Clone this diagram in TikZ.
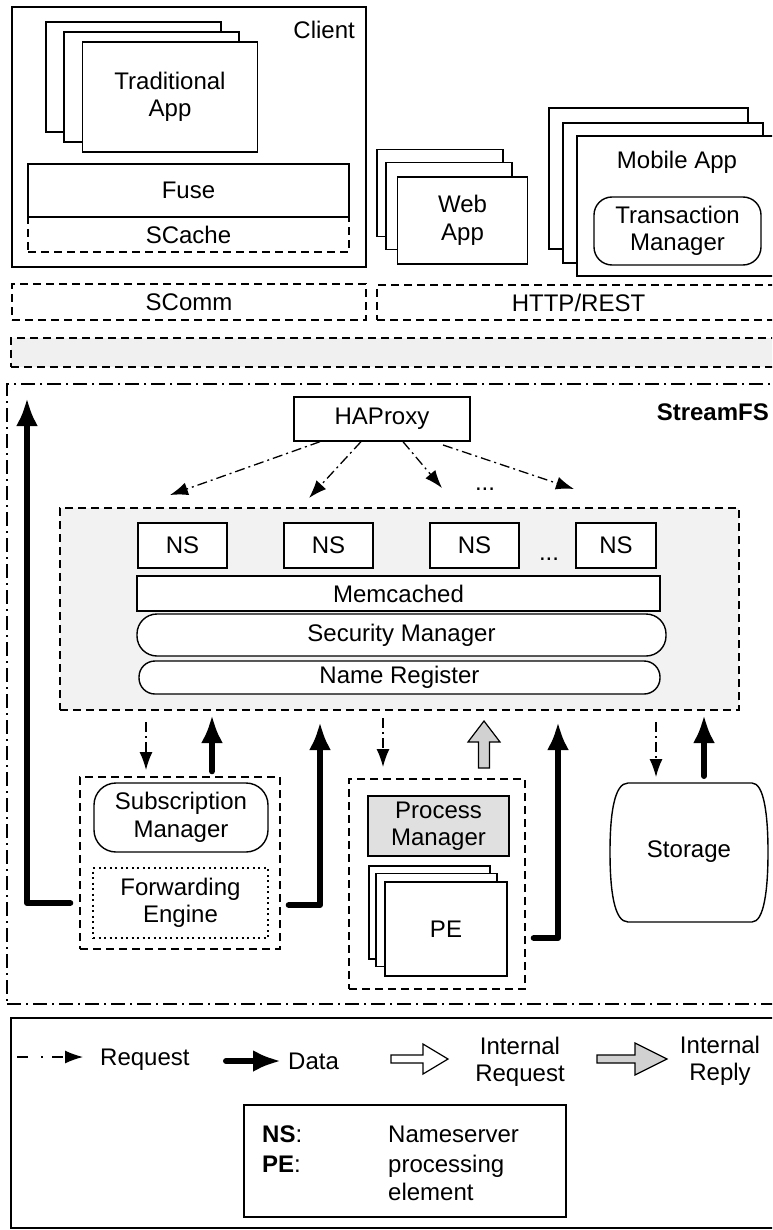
\documentclass[tikz,border=0pt]{standalone}
\usepackage{fontspec}
\setmainfont{Liberation Sans}
\usetikzlibrary{arrows.meta}
\begin{document}
\begin{tikzpicture}[x=1pt,y=-1pt,
  every node/.style={font=\fontsize{24}{27.5}\selectfont, align=center, inner sep=0pt},
  bx/.style={draw, line width=1.4pt, fill=white},
  dbx/.style={draw, line width=1.4pt, dash pattern=on 8pt off 5pt},
  rbx/.style={bx, rounded corners=18pt},
  dotbx/.style={draw, line width=1.4pt, dash pattern=on 2pt off 3.5pt},
  ddbx/.style={draw, line width=1.4pt, dash pattern=on 14pt off 5pt on 2pt off 5pt},
  req/.style={line width=1.3pt, dash pattern=on 10pt off 4pt on 2pt off 4pt, -{Latex[length=18pt,width=13pt]}},
  data/.style={line width=6pt, line join=round, line cap=round, -{Latex[length=28pt,width=22pt]}},
  blk/.style={line width=1.2pt, draw, line join=miter}
]
\useasboundingbox (0,0) rectangle (772,1230);
\clip (0,0) rectangle (772,1230);

% ---------------- Client ----------------
\node[bx, minimum width=354pt, minimum height=260pt] (client) at (189,137) {};
\node[anchor=east] (clientlbl) at (355,30) {Client};
\node[bx, minimum width=175pt, minimum height=110pt] (trad1) at (133.5,77) {};
\node[bx, minimum width=175pt, minimum height=110pt] (trad2) at (151.5,87) {};
\node[bx, minimum width=175pt, minimum height=110pt] (trad) at (170,97) {Traditional\\App};
\node[bx, minimum width=321pt, minimum height=53pt] (fuse) at (188.5,190.5) {Fuse};
\node[dbx, minimum width=321pt, minimum height=35pt] (scache) at (188.5,234.5) {SCache};
\node[dbx, minimum width=354pt, minimum height=36pt] (scomm) at (189,302) {SComm};

% ---------------- Web / Mobile ----------------
\node[bx, minimum width=126pt, minimum height=87pt] (web1) at (440,193) {};
\node[bx, minimum width=126pt, minimum height=87pt] (web2) at (449,206) {};
\node[bx, minimum width=130pt, minimum height=87pt] (web) at (462.5,220.5) {Web\\App};

\node[bx, minimum width=199pt, minimum height=141pt] (mob1) at (648.5,178.5) {};
\node[bx, minimum width=200pt, minimum height=140pt] (mob2) at (663,193) {};
\node[bx, minimum width=201pt, minimum height=140pt] (mob) at (677.5,206) {};
\node (moblbl) at (677,162) {Mobile App};
\node[rbx, minimum width=167pt, minimum height=68pt] (tm) at (677.5,231) {Transaction\\Manager};
\node[dbx, minimum width=403pt, minimum height=35pt] (http) at (578.5,302.5) {HTTP/REST};

% gray band
\node[dbx, fill=black!6, minimum width=779pt, minimum height=29pt] (band) at (400.5,352.5) {};

% ---------------- StreamFS ----------------
\node[ddbx, minimum width=783pt, minimum height=620pt] (sfs) at (398.5,694) {};
\node[anchor=east, font=\bfseries\fontsize{24}{27.5}\selectfont] (sfslbl) at (769,412) {StreamFS};

\node[bx, minimum width=176pt, minimum height=44pt] (hap) at (382,419) {HAProxy};

\node[dbx, fill=black!5, minimum width=679pt, minimum height=202pt] (nsg) at (399.5,609) {};
\node[bx, minimum width=89pt, minimum height=45pt] (ns1) at (182.5,545.5) {NS};
\node[bx, minimum width=89pt, minimum height=45pt] (ns2) at (328.5,545.5) {NS};
\node[bx, minimum width=89pt, minimum height=45pt] (ns3) at (474.5,545.5) {NS};
\node[bx, minimum width=80pt, minimum height=45pt] (ns4) at (616,545.5) {NS};
\node (nsdots) at (549,559) {...};
\node[bx, minimum width=523pt, minimum height=35pt] (memc) at (398.5,593.5) {Memcached};
\node[rbx, rounded corners=20pt, minimum width=529pt, minimum height=42pt] (secm) at (401.5,635) {Security Manager};
\node[rbx, rounded corners=16pt, minimum width=521pt, minimum height=33pt] (namer) at (399.5,677.5) {Name Register};

% HAProxy request arrows
\coordinate (h1) at (170,495);
\coordinate (h2) at (309,498);
\coordinate (h3) at (442,488);
\coordinate (h4) at (574,489);
\draw[req] (320,443 |- hap.south) -- (h1);
\draw[req] (361,443 |- hap.south) -- (h2);
\draw[req] (403,443 |- hap.south) -- (h3);
\draw[req] (443,445) -- (h4);
\node (hdots) at (485,489) {...};

% Subscription group
\node[dbx, minimum width=200pt, minimum height=172pt] (subg) at (180,863) {};
\node[rbx, rounded corners=22pt, minimum width=174pt, minimum height=69pt] (subm) at (181,817.5) {Subscription\\Manager};
\node[dotbx, minimum width=175pt, minimum height=70pt] (fwd) at (180.5,903) {Forwarding\\Engine};

% Process group
\node[dbx, minimum width=176pt, minimum height=210pt] (procg) at (437,884) {};
\node[bx, fill=black!12, minimum width=141pt, minimum height=60pt] (procm) at (438.5,826) {Process\\Manager};
\node[bx, minimum width=121pt, minimum height=93pt] (pe1) at (429.5,912.5) {};
\node[bx, minimum width=121pt, minimum height=93pt] (pe2) at (436.5,920) {};
\node[bx, minimum width=122pt, minimum height=94pt] (pe) at (446,929) {PE};

% Storage
\draw[line width=1.4pt] (628,783) -- (752,783)
  .. controls (764,783) and (768,815) .. (768,852)
  .. controls (768,890) and (764,922) .. (752,922)
  -- (628,922)
  .. controls (614,922) and (610,890) .. (610,852)
  .. controls (610,815) and (614,783) .. (628,783) -- cycle;
\node (storage) at (689,852) {Storage};

% vertical connectors
\coordinate (ltop) at (27,398);
\draw[data] ([xshift=-22pt]fwd.west) -| (ltop);

\draw[req] (146,722) -- (146,770);
\draw[data] (212,0 |- subg.north) ++(0,-5) coordinate (s2) -- (212,715);
\coordinate (fwdtop) at (320,722);
\draw[data] ([xshift=20pt,yshift=-2pt]fwd.east) -| (fwdtop);

\draw[req] (383,718) -- (383,767);
\draw[blk, fill=black!18] (478.5,768) -- (478.5,742) -- (468,742) -- (484,721) -- (500,742) -- (489.5,742) -- (489.5,768) -- cycle;
\coordinate (petop) at (558,722);
\draw[data] ([xshift=26pt,yshift=-9pt]pe.east) -| (petop);

\draw[req] (656,722) -- (656,777);
\draw[data] (704,776) -- (704,715);

% ---------------- Legend ----------------
\node[draw, line width=1.4pt, minimum width=779pt, minimum height=210pt] (legend) at (400.5,1123) {};
\coordinate (lr0) at (17,1057);
\coordinate (lr1) at (83,1057);
\draw[req, dash pattern=on 11pt off 13pt on 2pt off 9pt] (lr0) -- (lr1);
\node[anchor=base west] (lreq) at (100,1065) {Request};
\coordinate (ld0) at (226,1061);
\coordinate (ld1) at (281,1061);
\draw[data] (ld0) -- (ld1);
\node[anchor=base west] (ldata) at (288,1069) {Data};
\draw[blk, fill=white] (391,1055) -- (423,1055) -- (423,1044) -- (448,1059) -- (423,1074) -- (423,1063) -- (391,1063) -- cycle;
\node (lireq) at (520,1062) {Internal\\Request};
\draw[blk, fill=black!18] (597,1055) -- (635,1055) -- (635,1043) -- (667,1059) -- (635,1075) -- (635,1063) -- (597,1063) -- cycle;
\node (lirep) at (720,1061) {Internal\\Reply};

\node[draw, line width=1.4pt, minimum width=322pt, minimum height=112pt] (abbr) at (405,1161) {};
\node[anchor=base west] (nsk) at (262,1142) {\textbf{NS}:};
\node[anchor=base west] (pek) at (262,1172) {\textbf{PE}:};
\node[anchor=base west] (nsv) at (388,1142) {Nameserver};
\node[anchor=base west] (pev1) at (388,1172) {processing};
\node[anchor=base west] (pev2) at (388,1200) {element};
\end{tikzpicture}
\end{document}
